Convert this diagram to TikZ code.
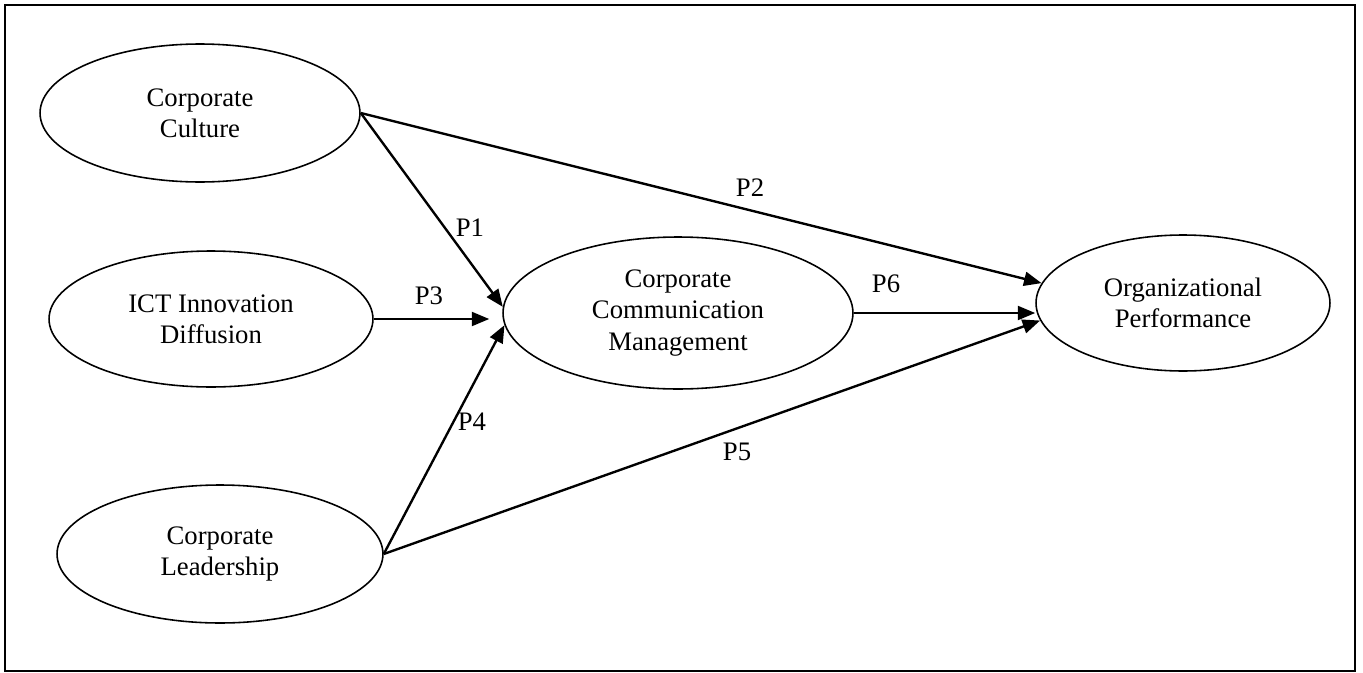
\documentclass[tikz,border=0pt]{standalone}
\usepackage{fontspec}
\setmainfont{Liberation Serif}
\usetikzlibrary{arrows.meta,shapes.geometric}

\begin{document}
\begin{tikzpicture}[x=0.02cm,y=-0.02cm,
  construct/.style={draw,ellipse,line width=0.9pt,inner sep=0pt,align=center,
    font=\fontsize{15.2}{17.8}\selectfont},
  link/.style={line width=1.35pt,-{Triangle[length=3.5mm,width=2.8mm]}},
  plabel/.style={font=\fontsize{15.2}{17}\selectfont,inner sep=0pt}]
  \useasboundingbox (0,0) rectangle (1363,673);
  \draw[line width=1.2pt] (5,5) rectangle (1355,671);
  % constructs
  \node[construct,minimum width=6.4cm,minimum height=2.76cm] (cc) at (200,113) {Corporate\\Culture};
  \node[construct,minimum width=6.48cm,minimum height=2.72cm] (ict) at (211,319) {ICT Innovation\\Diffusion};
  \node[construct,minimum width=6.52cm,minimum height=2.76cm] (cl) at (220,554) {Corporate\\Leadership};
  \node[construct,minimum width=7cm,minimum height=3.04cm] (ccm) at (678,313) {Corporate\\Communication\\Management};
  \node[construct,minimum width=5.88cm,minimum height=2.72cm] (op) at (1183,303) {Organizational\\Performance};
  % hypotheses
  \draw[link] (cc.east) -- (ccm.178);
  \draw[link] (cc.east) -- (op.172);
  \draw[link,shorten >=0.26cm] (ict.east) -- (ict.east -| ccm.west);
  \draw[link] (cl.east) -- (ccm.184);
  \draw[link] (cl.east) -- (op.187);
  \draw[link] (ccm.east) -- (ccm.east -| op.west);
  \node[plabel] (lp1) at (470,228) {P1};
  \node[plabel] (lp2) at (750,188) {P2};
  \node[plabel] (lp3) at (429,296) {P3};
  \node[plabel] (lp4) at (472,422) {P4};
  \node[plabel] (lp5) at (737,452) {P5};
  \node[plabel] (lp6) at (886,284) {P6};
\end{tikzpicture}
\end{document}
